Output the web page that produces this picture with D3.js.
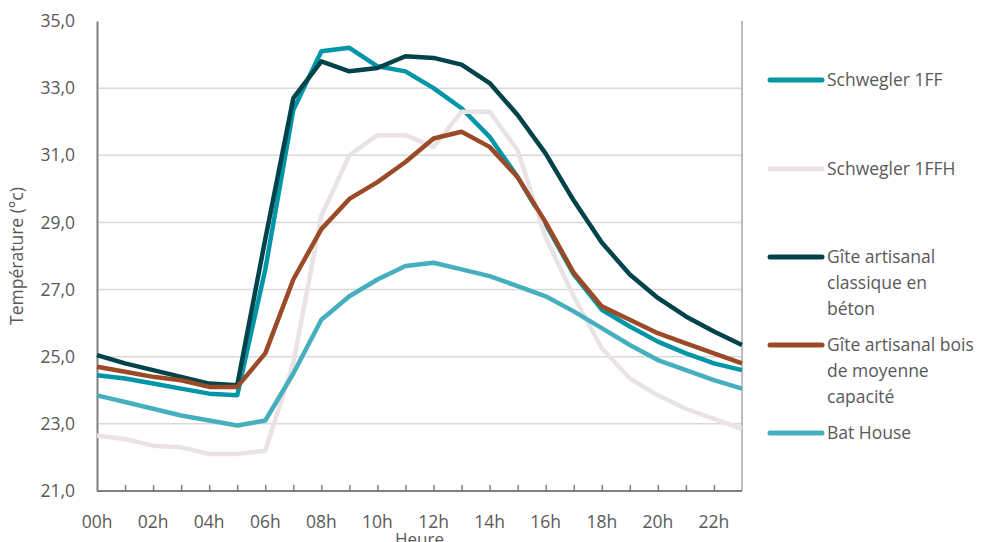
<!DOCTYPE html>
<html>
<head>
  <meta charset="utf-8">
  <title>Température par heure</title>
  <style>
    body { margin: 0; background: #fff; }
    text { font-family: "Open Sans", sans-serif; fill: #595959; }
  </style>
</head>
<body>
  <svg></svg>
  <script src="https://d3js.org/d3.v7.min.js"></script>
  <script>
    const width = 985;
    const height = 542;

    // hours 0..23
    const hours = d3.range(24);
    const hourLabels = ["00h", "02h", "04h", "06h", "08h", "10h", "12h", "14h", "16h", "18h", "20h", "22h"];
    const yTicks = [21, 23, 25, 27, 29, 31, 33, 35];

    const schwegler1FF = [24.45, 24.35, 24.2, 24.05, 23.9, 23.85, 27.6, 32.35, 34.1, 34.2, 33.65, 33.5,
      33.0, 32.4, 31.55, 30.35, 28.95, 27.45, 26.4, 25.9, 25.45, 25.1, 24.8, 24.6];
    const schwegler1FFH = [22.65, 22.55, 22.35, 22.3, 22.1, 22.1, 22.2, 24.8, 29.2, 31.0, 31.6, 31.6,
      31.25, 32.3, 32.3, 31.15, 28.55, 26.8, 25.25, 24.35, 23.85, 23.45, 23.15, 22.85];
    const giteBeton = [25.05, 24.8, 24.6, 24.4, 24.2, 24.15, 28.5, 32.7, 33.8, 33.5, 33.6, 33.95,
      33.9, 33.7, 33.15, 32.2, 31.05, 29.65, 28.4, 27.45, 26.75, 26.2, 25.75, 25.35];
    const giteBois = [24.7, 24.55, 24.4, 24.3, 24.1, 24.1, 25.1, 27.3, 28.8, 29.7, 30.2, 30.8,
      31.5, 31.7, 31.25, 30.35, 29.0, 27.5, 26.5, 26.1, 25.7, 25.4, 25.1, 24.8];
    const batHouse = [23.85, 23.65, 23.45, 23.25, 23.1, 22.95, 23.1, 24.5, 26.1, 26.8, 27.3, 27.7,
      27.8, 27.6, 27.4, 27.1, 26.8, 26.35, 25.85, 25.35, 24.9, 24.6, 24.3, 24.05];

    const series = [
      { name: ["Schwegler 1FF"], color: "#0095a7", values: schwegler1FF, ly: 80 },
      { name: ["Schwegler 1FFH"], color: "#e9e3e3", values: schwegler1FFH, ly: 169 },
      { name: ["Gîte artisanal", "classique en", "béton"], color: "#00434a", values: giteBeton, ly: 257 },
      { name: ["Gîte artisanal bois", "de moyenne", "capacité"], color: "#9b4a27", values: giteBois, ly: 345 },
      { name: ["Bat House"], color: "#45afbe", values: batHouse, ly: 433 }
    ];

    const margin = { top: 21, right: 243, bottom: 51, left: 97 };

    const x = d3.scaleLinear([0, 23], [margin.left, width - margin.right]);
    const y = d3.scaleLinear([21, 35], [height - margin.bottom, margin.top]);

    const svg = d3.select("svg")
      .attr("width", width)
      .attr("height", height)
      .attr("viewBox", [0, 0, width, height]);

    // gridlines
    svg.append("g")
      .selectAll("line")
      .data(yTicks.filter(d => d > 21 && d < 35))
      .join("line")
      .attr("x1", x(0))
      .attr("x2", x(23))
      .attr("y1", d => y(d))
      .attr("y2", d => y(d))
      .attr("stroke", "#d9d9d9")
      .attr("stroke-width", 1.5);

    // right border
    svg.append("line")
      .attr("x1", x(23)).attr("x2", x(23))
      .attr("y1", y(35)).attr("y2", y(21))
      .attr("stroke", "#a6a6a6")
      .attr("stroke-width", 1.5);

    // y axis
    const yAxis = svg.append("g")
      .attr("transform", `translate(${x(0)},0)`)
      .call(d3.axisLeft(y).tickValues(yTicks).tickSize(0).tickPadding(22)
        .tickFormat(d => d3.format(".1f")(d).replace(".", ",")));
    yAxis.select(".domain").attr("stroke", "#7f7f7f").attr("stroke-width", 2);
    yAxis.selectAll("text").attr("font-size", 17.5).attr("fill", "#595959")
      .attr("font-family", "'Open Sans', sans-serif");

    // x axis
    const xAxis = svg.append("g")
      .attr("transform", `translate(0,${y(21)})`)
      .call(d3.axisTop(x).tickValues(hours.slice(1, 23)).tickSize(6).tickFormat(""));
    xAxis.select(".domain").attr("stroke", "#7f7f7f").attr("stroke-width", 2).attr("d", `M${x(0)},0H${x(23)}`);
    xAxis.selectAll(".tick line").attr("stroke", "#7f7f7f").attr("stroke-width", 1.5);

    svg.append("g")
      .selectAll("text")
      .data(hourLabels)
      .join("text")
      .attr("x", (d, i) => x(i * 2))
      .attr("y", 528)
      .attr("text-anchor", "middle")
      .attr("font-size", 17.5)
      .text(d => d);

    // axis titles
    svg.append("text")
      .attr("transform", `translate(23,${(y(21) + y(35)) / 2}) rotate(-90)`)
      .attr("text-anchor", "middle")
      .attr("font-size", 17.5)
      .text("Température (°c)");

    svg.append("text")
      .attr("x", (x(0) + x(23)) / 2)
      .attr("y", 545)
      .attr("text-anchor", "middle")
      .attr("font-size", 17)
      .text("Heure");

    // lines
    const line = d3.line()
      .x((d, i) => x(i))
      .y(d => y(d));

    svg.append("g")
      .selectAll("path")
      .data(series)
      .join("path")
      .attr("d", d => line(d.values))
      .attr("fill", "none")
      .attr("stroke", d => d.color)
      .attr("stroke-width", 4.5)
      .attr("stroke-linejoin", "round");

    // legend
    const legend = svg.append("g")
      .selectAll("g")
      .data(series)
      .join("g")
      .attr("transform", d => `translate(0,${d.ly})`);

    legend.append("line")
      .attr("x1", 770).attr("x2", 822)
      .attr("stroke", d => d.color)
      .attr("stroke-width", 5)
      .attr("stroke-linecap", "round");

    legend.append("text")
      .attr("x", 827)
      .attr("font-size", 17.5)
      .selectAll("tspan")
      .data(d => d.name)
      .join("tspan")
      .attr("x", 827)
      .attr("y", (d, i) => i * 26)
      .attr("dy", "0.35em")
      .text(d => d);
  </script>
</body>
</html>
